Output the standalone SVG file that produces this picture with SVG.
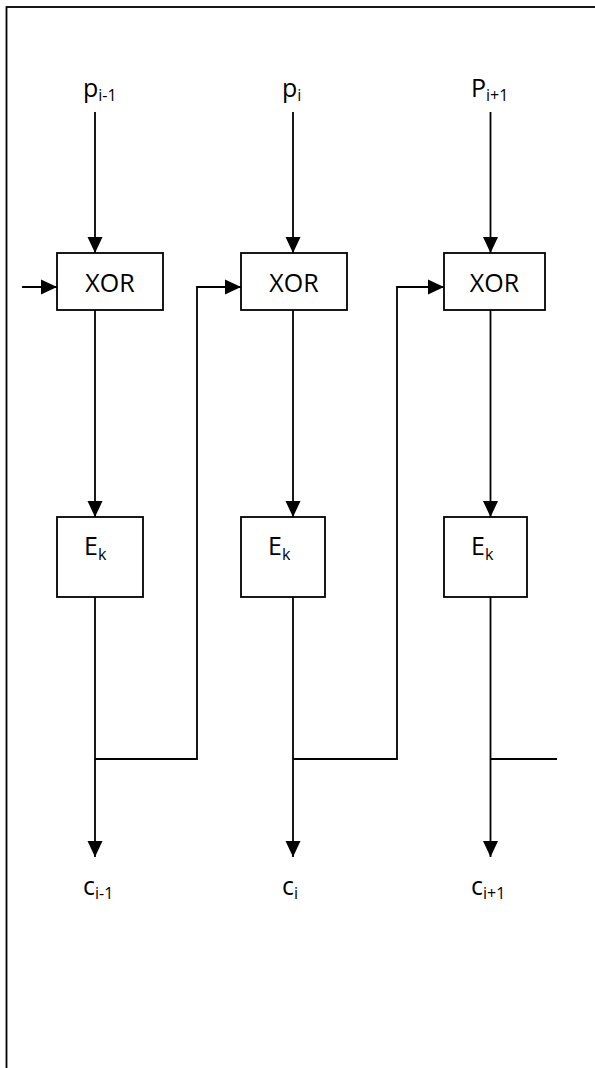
<svg xmlns="http://www.w3.org/2000/svg" width="595" height="1068" viewBox="0 0 595 1068">
  <defs>
    <marker id="arrow" markerUnits="userSpaceOnUse" markerWidth="16" markerHeight="16" viewBox="0 0 16 16" refX="16" refY="8" orient="auto">
      <path d="M0,0.5 L16,8 L0,15.5 Z" fill="#000"/>
    </marker>
    <style>
      .frame { fill: none; stroke: #000; stroke-width: 1.8; }
      .box { fill: #fff; stroke: #000; stroke-width: 1.8; }
      .wire { fill: none; stroke: #000; stroke-width: 1.8; }
      .arr { marker-end: url(#arrow); }
      .lbl { font-family: "Open Sans", "Noto Sans", "Liberation Sans", sans-serif; font-size: 25px; fill: #000; }
      .sub { font-size: 16px; }
    </style>
  </defs>

  <rect id="frame" class="frame" x="6.5" y="7" width="620" height="1100"/>

  <!-- plaintext inputs -->
  <g id="p-prev"><text class="lbl" x="83" y="97">p<tspan class="sub" dy="4">i-1</tspan></text></g>
  <g id="p-cur"><text class="lbl" x="282" y="97">p<tspan class="sub" dy="4">i</tspan></text></g>
  <g id="p-next"><text class="lbl" x="471" y="97">P<tspan class="sub" dy="4">i+1</tspan></text></g>

  <!-- XOR stages -->
  <g id="xor-1"><rect class="box" x="57" y="253" width="106" height="57"/><text class="lbl" x="110" y="292" text-anchor="middle">XOR</text></g>
  <g id="xor-2"><rect class="box" x="241" y="253" width="106" height="57"/><text class="lbl" x="294" y="292" text-anchor="middle">XOR</text></g>
  <g id="xor-3"><rect class="box" x="444" y="253" width="101" height="57"/><text class="lbl" x="494.5" y="292" text-anchor="middle">XOR</text></g>

  <!-- block cipher stages -->
  <g id="enc-1"><rect class="box" x="57" y="517" width="86" height="80"/><text class="lbl" x="84" y="555">E<tspan class="sub" dy="5">k</tspan></text></g>
  <g id="enc-2"><rect class="box" x="241" y="517" width="84" height="80"/><text class="lbl" x="268" y="555">E<tspan class="sub" dy="5">k</tspan></text></g>
  <g id="enc-3"><rect class="box" x="444" y="517" width="83" height="80"/><text class="lbl" x="471" y="555">E<tspan class="sub" dy="5">k</tspan></text></g>

  <!-- ciphertext outputs -->
  <g id="c-prev"><text class="lbl" x="83" y="895">c<tspan class="sub" dy="4">i-1</tspan></text></g>
  <g id="c-cur"><text class="lbl" x="282" y="895">c<tspan class="sub" dy="4">i</tspan></text></g>
  <g id="c-next"><text class="lbl" x="471" y="895">c<tspan class="sub" dy="4">i+1</tspan></text></g>

  <g id="connectors">
    <!-- plaintext into XOR -->
    <line class="wire arr" x1="95" y1="112" x2="95" y2="253"/>
    <line class="wire arr" x1="293" y1="112" x2="293" y2="253"/>
    <line class="wire arr" x1="490.5" y1="112" x2="490.5" y2="253"/>
    <!-- initial chaining input -->
    <line class="wire arr" x1="22" y1="287" x2="57" y2="287"/>
    <!-- XOR into E_k -->
    <line class="wire arr" x1="95" y1="310" x2="95" y2="517"/>
    <line class="wire arr" x1="293" y1="310" x2="293" y2="517"/>
    <line class="wire arr" x1="490.5" y1="310" x2="490.5" y2="517"/>
    <!-- E_k to ciphertext -->
    <line class="wire arr" x1="95" y1="597" x2="95" y2="857"/>
    <line class="wire arr" x1="293" y1="597" x2="293" y2="857"/>
    <line class="wire arr" x1="490.5" y1="597" x2="490.5" y2="857"/>
    <!-- ciphertext fed forward to next XOR -->
    <polyline class="wire arr" points="95,759 197,759 197,287 241,287"/>
    <polyline class="wire arr" points="293,759 397,759 397,287 444,287"/>
    <line class="wire" x1="490.5" y1="759" x2="557" y2="759"/>
  </g>
</svg>
